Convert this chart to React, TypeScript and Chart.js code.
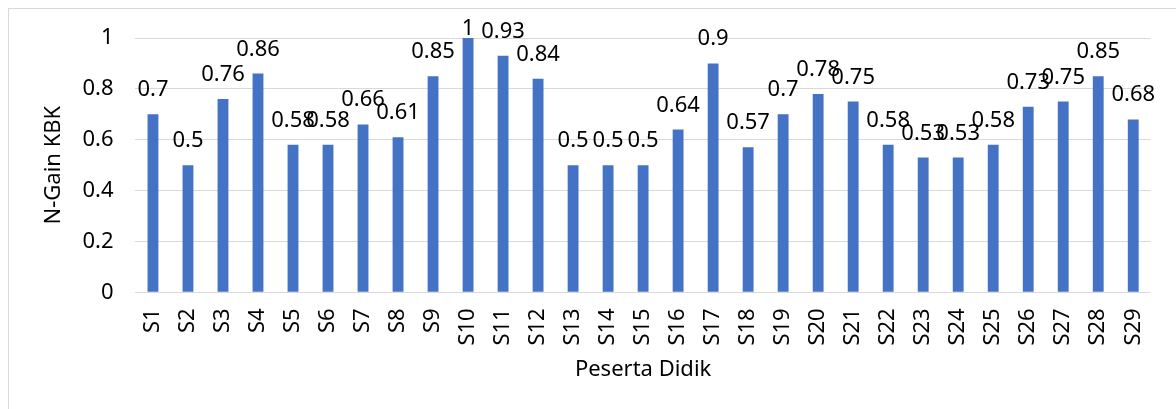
import React, { useEffect, useRef } from "react";
import { Chart, registerables } from "chart.js";

Chart.register(...registerables);

const categories = [
  "S1", "S2", "S3", "S4", "S5", "S6", "S7", "S8", "S9", "S10",
  "S11", "S12", "S13", "S14", "S15", "S16", "S17", "S18", "S19", "S20",
  "S21", "S22", "S23", "S24", "S25", "S26", "S27", "S28", "S29",
];
const nGainValues = [
  0.7, 0.5, 0.76, 0.86, 0.58, 0.58, 0.66, 0.61, 0.85, 1,
  0.93, 0.84, 0.5, 0.5, 0.5, 0.64, 0.9, 0.57, 0.7, 0.78,
  0.75, 0.58, 0.53, 0.53, 0.58, 0.73, 0.75, 0.85, 0.68,
];
const yTickLabels = ["0", "0.2", "0.4", "0.6", "0.8", "1"];
const xTitle = "Peserta Didik";
const yTitle = "N-Gain KBK";

const FONT = "'Noto Sans', 'Open Sans', sans-serif";
const FS = 22;

const dataLabels = {
  id: "dataLabels",
  afterDatasetsDraw(chart: any) {
    const ctx = chart.ctx;
    const meta = chart.getDatasetMeta(0);
    const ds = chart.data.datasets[0];
    ctx.save();
    ctx.font = `${FS}px ${FONT}`;
    ctx.fillStyle = "#000";
    ctx.textAlign = "center";
    ctx.textBaseline = "alphabetic";
    meta.data.forEach((bar: any, i: number) => {
      const v = ds.data[i];
      const y = Math.max(bar.y - 18, 35);
      ctx.fillText(String(v), bar.x, y);
    });
    ctx.restore();
  },
};

export default function App() {
  const ref = useRef<HTMLCanvasElement>(null);
  useEffect(() => {
    if (!ref.current) return;
    const chart = new Chart(ref.current, {
      type: "bar",
      data: {
        labels: categories,
        datasets: [
          {
            data: nGainValues,
            backgroundColor: "#4472C4",
            barPercentage: 0.31,
            categoryPercentage: 1,
          },
        ],
      },
      options: {
        responsive: false,
        animation: false,
        events: [],
        layout: { padding: { top: 38, right: 21, left: 37, bottom: 22 } },
        plugins: {
          legend: { display: false },
          tooltip: { enabled: false },
        },
        scales: {
          x: {
            grid: { display: false, drawTicks: false },
            border: { display: false },
            ticks: {
              color: "#000",
              font: { family: FONT, size: FS },
              minRotation: 90,
              maxRotation: 90,
              padding: 16,
              autoSkip: false,
            },
            title: {
              display: true,
              text: xTitle,
              color: "#000",
              font: { family: FONT, size: FS },
              padding: { top: -5, bottom: 4 },
            },
          },
          y: {
            min: 0,
            max: 1,
            grid: { color: "#d9d9d9", lineWidth: 1, drawTicks: false },
            border: { display: false },
            ticks: {
              stepSize: 0.2,
              color: "#000",
              font: { family: FONT, size: FS },
              padding: 22,
              callback: (_v: any, i: number) => yTickLabels[i],
            },
            title: {
              display: true,
              text: yTitle,
              color: "#000",
              font: { family: FONT, size: FS },
              padding: { top: 4, bottom: -7 },
            },
          },
        },
      },
      plugins: [dataLabels],
    });
    return () => chart.destroy();
  }, []);

  return (
    <div>
      <div
        style={{
          position: "fixed",
          left: 8,
          top: 8,
          right: 0,
          bottom: 0,
          borderTop: "1px solid #d9d9d9",
          borderLeft: "1px solid #d9d9d9",
        }}
      />
      <canvas
        ref={ref}
        width={1176}
        height={409}
        style={{ position: "fixed", left: 0, top: 0, width: 1176, height: 409 }}
      />
    </div>
  );
}
